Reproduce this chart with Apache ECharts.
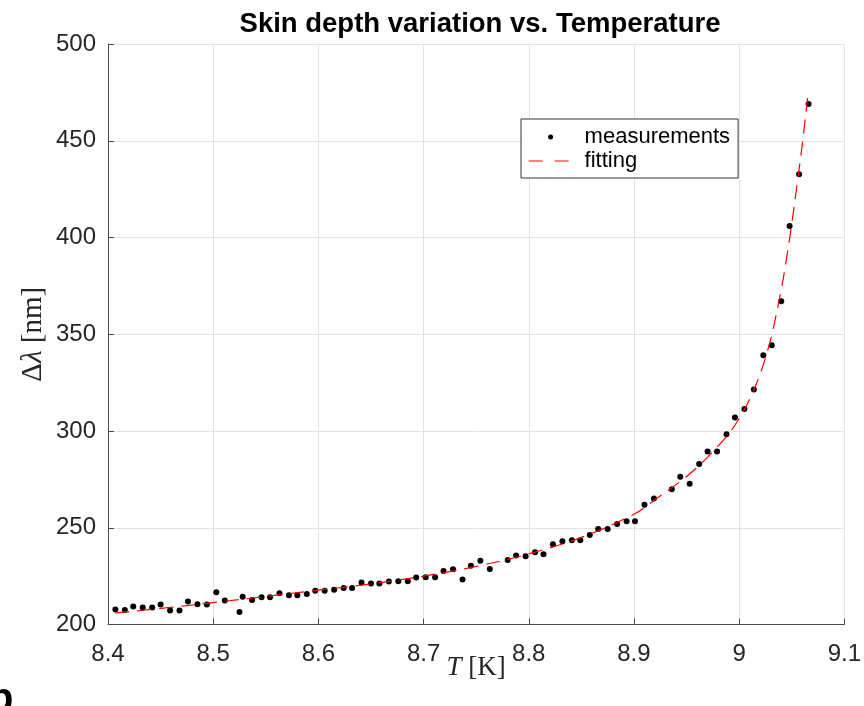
<!DOCTYPE html>
<html>
<head>
<meta charset="utf-8">
<script src="https://cdn.jsdelivr.net/npm/echarts@6/dist/echarts.min.js"></script>
<style>
html,body{margin:0;padding:0;background:#fff;}
#chart{width:864px;height:706px;}
</style>
</head>
<body>
<div id="chart"></div>
<script>
const T_meas = [8.407,8.416,8.424,8.433,8.442,8.450,8.459,8.468,8.476,8.485,8.494,8.503,8.511,8.525,8.528,8.537,8.546,8.554,8.563,8.572,8.580,8.589,8.597,8.606,8.615,8.624,8.632,8.641,8.650,8.658,8.667,8.676,8.685,8.693,8.702,8.711,8.719,8.728,8.737,8.745,8.754,8.763,8.780,8.788,8.797,8.806,8.814,8.823,8.832,8.841,8.849,8.858,8.866,8.875,8.884,8.893,8.901,8.910,8.919,8.936,8.944,8.953,8.962,8.970,8.979,8.988,8.996,9.005,9.014,9.023,9.031,9.040,9.048,9.057,9.066];
const dLambda_meas = [207.8,207.5,209.3,208.8,208.8,210.3,207.2,207.2,211.9,210.5,210.3,216.7,212.4,206.5,214.3,212.6,214.1,214.1,216.2,215.1,215.1,215.7,217.4,217.4,217.9,218.9,218.8,221.7,221.2,221.2,222.2,222.4,222.4,224.3,224.4,224.4,227.7,228.6,223.3,230.3,232.9,228.7,233.3,235.6,235.3,237.4,236.3,241.5,243.0,243.6,243.6,246.3,249.4,249.4,252.0,253.4,253.4,261.9,265.1,269.9,276.3,272.8,283.0,289.4,289.4,298.3,307.0,311.4,321.4,339.2,344.3,367.1,406.0,432.7,469.0];

// Fitted curve
const T_fit = [8.407,8.45,8.50,8.55,8.60,8.65,8.70,8.75,8.80,8.85,8.90,8.92,8.95,8.97,8.99,9.00,9.01,9.02,9.03,9.04,9.045,9.05,9.055,9.06,9.065];
const dLambda_fit = [206.0,208.3,211.3,214.5,217.8,221.0,225.0,230.0,236.5,245.0,257.0,264.5,276.5,286.5,298.5,306.5,316.5,329.5,347.5,373.0,389.0,407.0,427.0,448.0,472.0];

const seriesNames = ['measurements', 'fitting'];
const chartTitle = 'Skin depth variation vs. Temperature';
const xRange = [8.4, 9.1], xStep = 0.1;
const yRange = [200, 500], yStep = 50;

const chart = echarts.init(document.getElementById('chart'), null, {renderer: 'canvas'});
const axisColor = '#4a4a4a';
const gridColor = '#e3e3e3';
const sans = '"Liberation Sans", Arial, Helvetica, sans-serif';
const serif = '"Liberation Serif", "Times New Roman", serif';

chart.setOption({
  backgroundColor: '#ffffff',
  animation: false,
  title: {
    text: chartTitle,
    left: 475, top: 5, textAlign: 'center',
    textStyle: {fontFamily: sans, fontWeight: 'bold', fontSize: 27.5, color: '#000'}
  },
  grid: {left: 108, top: 44, right: 16, bottom: 81.5, containLabel: false},
  legend: {
    orient: 'vertical',
    left: 521, top: 119,
    padding: [7, 8, 6, 7],
    itemGap: 2,
    itemWidth: 44, itemHeight: 5,
    backgroundColor: '#fff',
    borderColor: '#333', borderWidth: 1, borderRadius: 0,
    textStyle: {fontFamily: sans, fontSize: 22, color: '#000', padding: [0, 0, 0, 7]},
    data: [
      {name: seriesNames[0], icon: 'circle', itemStyle: {color: '#000'}},
      {name: seriesNames[1], icon: 'inherit',
       itemStyle: {color: 'rgba(0,0,0,0)', borderWidth: 0, opacity: 0},
       lineStyle: {color: '#ff0000', width: 1.2, type: [14, 12]}}
    ]
  },
  xAxis: {
    type: 'value', min: xRange[0], max: xRange[1], interval: xStep,
    name: '{i|T} [K]', nameLocation: 'middle', nameGap: 30, nameMoveOverlap: false,
    nameTextStyle: {fontFamily: serif, fontSize: 27, color: '#262626',
      rich: {i: {fontFamily: serif, fontStyle: 'italic', fontSize: 27, color: '#262626'}}},
    axisLine: {show: true, onZero: false, lineStyle: {color: axisColor, width: 1}},
    axisTick: {show: true, inside: true, length: 6, lineStyle: {color: axisColor}},
    axisLabel: {fontFamily: sans, fontSize: 24, color: '#262626', margin: 18},
    splitLine: {show: true, lineStyle: {color: gridColor, width: 1}}
  },
  yAxis: {
    type: 'value', min: yRange[0], max: yRange[1], interval: yStep,
    name: 'Δ{i|λ} [nm]', nameLocation: 'middle', nameGap: 60, nameRotate: 90, nameMoveOverlap: false,
    nameTextStyle: {fontFamily: serif, fontSize: 29, color: '#262626',
      rich: {i: {fontFamily: serif, fontStyle: 'italic', fontSize: 29, color: '#262626'}}},
    axisLine: {show: true, onZero: false, lineStyle: {color: axisColor, width: 1}},
    axisTick: {show: true, inside: true, length: 6, lineStyle: {color: axisColor}},
    axisLabel: {fontFamily: sans, fontSize: 24, color: '#262626', margin: 12},
    splitLine: {show: true, lineStyle: {color: gridColor, width: 1}}
  },
  graphic: [{
    type: 'text', left: -11, top: 680, silent: true,
    style: {text: 'b', font: 'bold 40px "Liberation Sans", Arial, sans-serif', fill: '#000'}
  }],
  series: [
    {
      name: seriesNames[0], type: 'scatter',
      data: T_meas.map((t, i) => [t, dLambda_meas[i]]),
      symbol: 'circle', symbolSize: 6,
      itemStyle: {color: '#000', opacity: 1},
      z: 2
    },
    {
      name: seriesNames[1], type: 'line',
      data: T_fit.map((t, i) => [t, dLambda_fit[i]]),
      symbol: 'none', showSymbol: false,
      smooth: 0.35,
      lineStyle: {color: '#ff0000', width: 1.2, type: [14, 8]},
      itemStyle: {color: '#ff0000'},
      z: 3
    }
  ]
});
</script>
</body>
</html>
